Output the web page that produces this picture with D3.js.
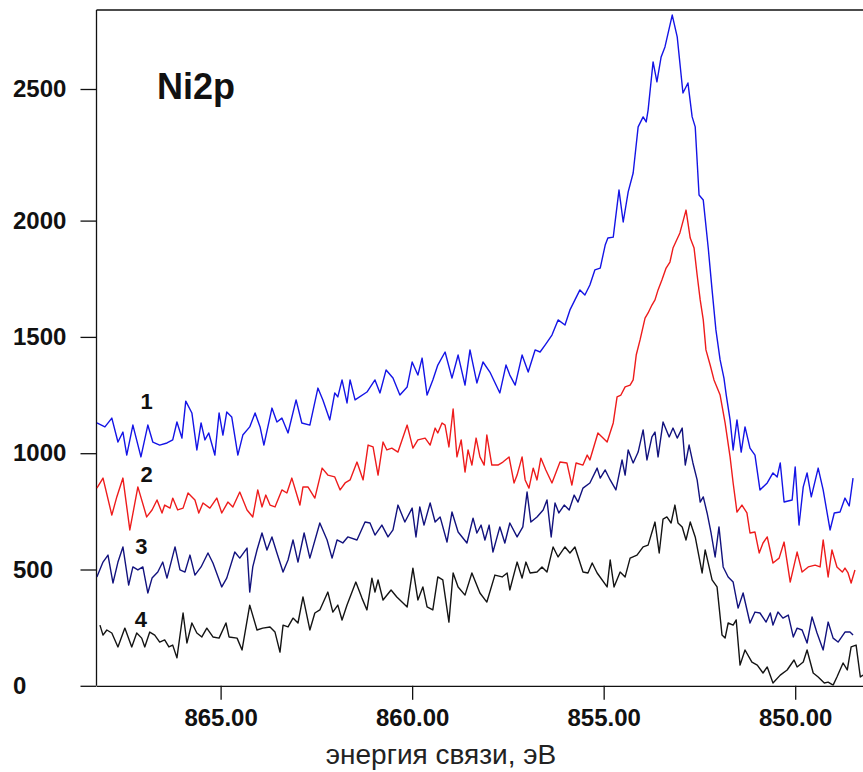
<!DOCTYPE html>
<html>
<head>
<meta charset="utf-8">
<script src="https://cdn.jsdelivr.net/npm/d3@7"></script>
<style>
  body { margin: 0; background: #fff; }
  svg { display: block; font-family: "Liberation Sans", Arial, sans-serif; }
</style>
</head>
<body>
<div id="chart"></div>
<script>
// ---- data (binding energy in eV, intensity in counts) ----
const xTicks = [865, 860, 855, 850];
const yTicks = [0, 500, 1000, 1500, 2000, 2500];
const seriesNames = ["1", "2", "3", "4"];
const panelTitle = "Ni2p";
const xTitle = "энергия связи, эВ";

const energy1 = [868.23,868.02,867.84,867.68,867.55,867.45,867.29,867.08,866.90,866.77,866.59,866.40,866.25,866.14,866.01,865.91,865.75,865.62,865.51,865.41,865.31,865.15,865.04,864.94,864.84,864.71,864.55,864.42,864.24,864.10,863.97,863.87,863.66,863.53,863.40,863.24,863.03,862.88,862.67,862.46,862.33,862.15,862.02,861.94,861.83,861.70,861.62,861.49,861.18,860.97,860.84,860.68,860.50,860.32,860.13,860.00,859.85,859.74,859.61,859.46,859.33,859.14,858.96,858.80,858.62,858.49,858.31,858.15,857.97,857.71,857.55,857.45,857.31,857.13,856.97,856.79,856.66,856.53,856.35,856.19,856.01,855.88,855.75,855.62,855.49,855.36,855.23,855.09,854.96,854.89,854.75,854.60,854.49,854.36,854.23,854.10,853.97,853.89,853.84,853.71,853.61,853.50,853.40,853.21,853.08,852.93,852.80,852.69,852.61,852.51,852.40,852.27,852.17,852.07,851.96,851.86,851.80,851.70,851.62,851.52,851.41,851.31,851.18,851.05,850.92,850.73,850.58,850.47,850.39,850.29,850.08,850.00,849.90,849.79,849.69,849.58,849.40,849.27,849.09,848.98,848.83,848.70,848.59,848.49];
const counts1 = [1130,1113,1151,1048,1091,992,1121,984,1121,1048,1035,1044,1057,1134,1065,1224,1173,1014,1130,1057,1087,992,1173,1078,1177,1156,992,1078,1113,1173,1113,1035,1194,1134,1151,1087,1229,1130,1121,1280,1229,1143,1259,1242,1315,1216,1315,1229,1263,1315,1259,1358,1323,1250,1285,1392,1336,1409,1250,1315,1379,1435,1323,1422,1293,1444,1302,1392,1349,1259,1379,1336,1293,1422,1349,1444,1435,1465,1508,1573,1551,1616,1659,1702,1680,1723,1788,1796,1895,1925,1929,2116,1994,2109,2181,2356,2394,2375,2420,2603,2527,2622,2660,2781,2698,2485,2523,2394,2356,2097,2078,1882,1702,1530,1401,1323,1250,1143,1014,1143,1005,1113,1022,992,842,872,915,898,958,790,799,941,691,855,915,812,936,842,670,743,747,807,773,893];

const energy2 = [868.23,868.07,867.84,867.71,867.55,867.37,867.16,866.93,866.79,866.66,866.53,866.46,866.32,866.25,866.12,865.98,865.85,865.67,865.57,865.46,865.28,865.10,864.97,864.81,864.68,864.50,864.31,864.16,864.03,863.92,863.82,863.71,863.58,863.40,863.27,863.14,862.93,862.85,862.72,862.54,862.35,862.20,862.02,861.88,861.75,861.62,861.44,861.28,861.15,861.02,860.89,860.76,860.66,860.53,860.37,860.13,859.98,859.85,859.66,859.53,859.40,859.33,859.22,859.14,859.04,858.93,858.83,858.72,858.62,858.54,858.44,858.33,858.23,858.12,858.05,857.92,857.76,857.63,857.47,857.34,857.26,857.13,857.05,856.95,856.84,856.74,856.64,856.51,856.35,856.14,855.96,855.83,855.72,855.54,855.43,855.36,855.15,854.91,854.75,854.65,854.55,854.44,854.31,854.23,854.15,854.05,853.92,853.84,853.74,853.66,853.58,853.48,853.37,853.27,853.19,853.01,852.85,852.74,852.64,852.56,852.48,852.40,852.33,852.22,852.12,851.96,851.83,851.70,851.62,851.52,851.39,851.26,851.18,851.05,850.94,850.84,850.73,850.58,850.42,850.29,850.13,849.95,849.82,849.66,849.48,849.35,849.27,849.14,849.04,848.91,848.77,848.70,848.62,848.54,848.44];
const counts2 = [850,893,734,812,893,670,855,726,756,799,743,777,764,807,756,764,829,799,743,786,764,807,743,790,769,833,756,726,842,769,820,777,769,842,829,893,777,855,855,807,936,906,898,842,872,885,962,885,1035,1027,906,1048,1014,1022,1005,1121,1022,1057,1065,1035,1108,1087,1130,1121,1027,1190,984,1057,919,1014,949,1065,984,949,1078,949,949,962,984,872,906,984,885,850,936,885,979,928,872,962,958,863,958,949,992,971,1087,1048,1130,1242,1250,1285,1293,1315,1422,1487,1581,1603,1637,1659,1702,1745,1796,1822,1882,1947,2040,1925,1882,1766,1659,1573,1444,1379,1315,1250,1130,984,872,747,777,743,657,661,571,614,640,528,549,618,446,575,489,511,519,511,627,468,584,511,489,506,485,442,498];

const energy3 = [868.23,868.07,867.94,867.81,867.68,867.55,867.40,867.29,867.16,867.03,866.90,866.79,866.64,866.51,866.40,866.19,866.06,865.93,865.80,865.67,865.51,865.33,865.20,864.97,864.84,864.63,864.50,864.31,864.24,864.16,864.05,863.92,863.79,863.66,863.53,863.37,863.24,863.11,862.98,862.82,862.67,862.41,862.22,862.09,861.96,861.81,861.68,861.44,861.23,861.10,860.97,860.79,860.63,860.50,860.37,860.19,860.00,859.90,859.80,859.69,859.53,859.40,859.27,859.09,858.96,858.80,858.57,858.41,858.31,858.20,858.10,857.99,857.89,857.71,857.58,857.45,857.26,857.11,857.00,856.90,856.74,856.58,856.48,856.37,856.27,856.17,856.03,855.90,855.77,855.67,855.54,855.36,855.17,855.09,854.96,854.83,854.68,854.52,854.44,854.36,854.23,854.10,853.97,853.87,853.74,853.66,853.58,853.45,853.29,853.19,853.08,852.95,852.87,852.77,852.67,852.56,852.48,852.40,852.30,852.20,852.09,851.99,851.88,851.75,851.62,851.49,851.36,851.18,851.05,850.92,850.76,850.65,850.58,850.45,850.32,850.18,850.05,849.95,849.82,849.69,849.56,849.43,849.27,849.14,849.01,848.88,848.70,848.57,848.49];
const counts3 = [468,532,562,442,532,597,433,511,498,511,399,463,489,532,463,597,498,489,562,476,511,571,528,425,463,575,549,592,403,511,584,657,584,640,571,489,541,627,532,657,549,700,627,549,627,614,640,627,704,700,648,691,640,670,777,704,764,640,769,691,786,704,726,618,747,661,614,721,657,691,627,691,575,683,614,700,640,683,833,704,726,756,799,640,786,743,777,756,820,790,850,872,936,893,928,885,842,971,906,1014,958,1005,1100,971,1070,1091,984,1134,1070,1108,1065,1108,949,1035,958,885,790,812,743,661,554,683,511,468,446,334,399,270,317,313,274,313,261,317,291,304,210,248,240,184,296,227,154,274,205,188,231,231,218];

const energy4 = [868.15,868.07,867.97,867.84,867.68,867.50,867.32,867.19,867.06,866.98,866.85,866.72,866.59,866.46,866.35,866.25,866.14,865.98,865.88,865.75,865.62,865.49,865.36,865.20,865.04,864.86,864.78,864.57,864.44,864.24,864.05,863.90,863.71,863.58,863.45,863.37,863.24,863.11,862.98,862.85,862.67,862.54,862.41,862.20,862.07,861.94,861.83,861.70,861.47,861.31,861.18,861.05,860.97,860.89,860.76,860.55,860.40,860.13,859.98,859.85,859.72,859.61,859.46,859.33,859.20,859.04,858.93,858.80,858.62,858.44,858.23,858.05,857.84,857.65,857.52,857.45,857.26,857.13,857.03,856.92,856.74,856.61,856.48,856.32,856.19,856.01,855.88,855.75,855.54,855.41,855.30,855.17,854.91,854.83,854.73,854.57,854.44,854.31,854.13,853.97,853.84,853.66,853.55,853.45,853.35,853.24,853.14,853.06,852.95,852.85,852.74,852.61,852.43,852.35,852.17,852.04,851.91,851.83,851.75,851.62,851.54,851.44,851.31,851.13,850.99,850.84,850.73,850.58,850.39,850.21,850.03,849.95,849.79,849.69,849.53,849.40,849.24,849.14,849.01,848.91,848.75,848.64,848.54,848.41,848.30,848.23];
const counts4 = [261,218,240,227,167,248,167,227,205,167,231,218,188,197,167,175,120,313,184,270,227,210,248,210,205,270,210,205,154,347,240,248,253,231,145,261,253,291,270,382,240,313,326,403,317,347,283,347,446,377,326,463,403,455,369,412,382,339,506,369,425,339,326,468,455,274,485,425,390,485,399,360,476,468,485,412,532,463,532,485,489,511,489,597,554,597,571,597,489,485,528,485,425,541,425,489,468,549,562,597,605,704,571,717,726,700,777,700,683,627,704,640,485,584,455,425,218,205,270,261,283,89,154,102,89,55,81,12,46,68,111,81,102,154,55,38,12,16,3,38,98,68,167,175,38,46];

// where the curve numbers and the panel title sit, in data units
const labelEnergy = [866.93, 866.93, 867.07, 867.08];
const labelCounts = [1190, 876, 567, 253];
const titleAt = [866.66, 2462];

const colors = ["#1414e6", "#ee1c1c", "#12127e", "#141414"];

// ---- chart ----
const W = 863, H = 772;
const m = {left: 96.5, right: 863, top: 10, bottom: 685.8};

const svg = d3.select("#chart").append("svg")
    .attr("width", W).attr("height", H);

const x = d3.scaleLinear().domain([868.24, 848.23]).range([m.left, m.right]);
// the printed axis is slightly stretched above 2000, so use a piecewise scale
const y = d3.scaleLinear().domain([0, 2000, 2500]).range([m.bottom, 220.6, 89]);

svg.append("clipPath").attr("id", "plot")
    .append("rect").attr("x", m.left).attr("y", m.top)
    .attr("width", m.right - m.left).attr("height", m.bottom - m.top);

// frame: left axis line and top border
svg.append("line").attr("x1", m.left).attr("x2", m.left).attr("y1", m.top).attr("y2", m.bottom)
    .attr("stroke", "#111").attr("stroke-width", 1.3);
svg.append("line").attr("x1", m.left).attr("x2", W).attr("y1", m.top).attr("y2", m.top)
    .attr("stroke", "#111").attr("stroke-width", 1.3);

// y axis
const yAxis = d3.axisLeft(y).tickValues(yTicks).tickSize(16).tickSizeOuter(0).tickFormat(d3.format("d"));
const yg = svg.append("g").attr("transform", "translate(" + m.left + ",0)").call(yAxis);
yg.select(".domain").remove();
yg.selectAll(".tick line").attr("stroke", "#111").attr("stroke-width", 1.3);
yg.selectAll(".tick text")
    .attr("x", 13 - m.left).attr("text-anchor", "start")
    .attr("font-family", "'Liberation Sans', Arial, sans-serif")
    .attr("font-size", 24).attr("font-weight", "bold").attr("fill", "#111");

// x axis
const xAxis = d3.axisBottom(x).tickValues(xTicks).tickSize(14).tickSizeOuter(0).tickPadding(9)
    .tickFormat(d3.format(".2f"));
const xg = svg.append("g").attr("transform", "translate(0," + m.bottom + ")").call(xAxis);
xg.select(".domain").attr("stroke", "#111").attr("stroke-width", 1.3);
xg.selectAll(".tick line").attr("stroke", "#111").attr("stroke-width", 1.3);
xg.selectAll(".tick text")
    .attr("font-family", "'Liberation Sans', Arial, sans-serif")
    .attr("font-size", 24).attr("font-weight", "bold").attr("fill", "#111");

svg.append("text")
    .attr("x", 441).attr("y", 764)
    .attr("text-anchor", "middle")
    .attr("font-size", 28).attr("fill", "#222")
    .text(xTitle);

// spectra
const series = [
    {name: seriesNames[0], pts: d3.zip(energy1, counts1)},
    {name: seriesNames[1], pts: d3.zip(energy2, counts2)},
    {name: seriesNames[2], pts: d3.zip(energy3, counts3)},
    {name: seriesNames[3], pts: d3.zip(energy4, counts4)}
];

const line = d3.line().x(d => x(d[0])).y(d => y(d[1]));

svg.append("g").attr("clip-path", "url(#plot)")
    .selectAll("path").data(series).join("path")
    .attr("d", d => line(d.pts))
    .attr("fill", "none")
    .attr("stroke", (d, i) => colors[i])
    .attr("stroke-width", 1.4)
    .attr("stroke-linejoin", "round");

svg.append("g").selectAll("text").data(series).join("text")
    .attr("x", (d, i) => x(labelEnergy[i]))
    .attr("y", (d, i) => y(labelCounts[i]))
    .attr("text-anchor", "middle")
    .attr("font-size", 22).attr("font-weight", "bold").attr("fill", "#111")
    .text(d => d.name);

svg.append("text")
    .attr("x", x(titleAt[0])).attr("y", y(titleAt[1]))
    .attr("font-size", 36).attr("font-weight", "bold").attr("fill", "#111")
    .text(panelTitle);
</script>
</body>
</html>
